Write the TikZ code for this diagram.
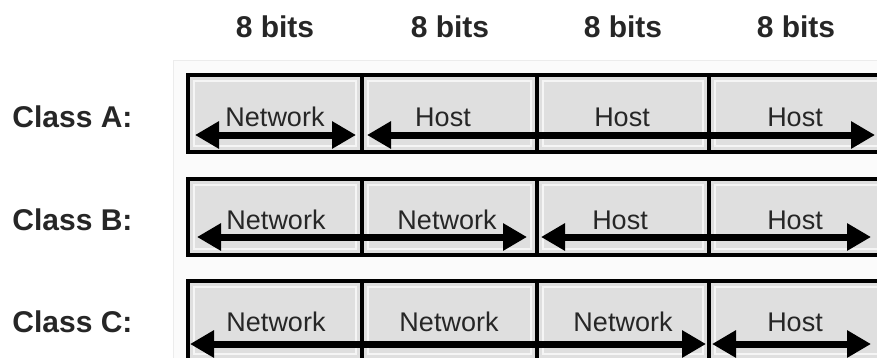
\documentclass[tikz,border=0pt]{standalone}
\usepackage{fontspec}
\setmainfont{Liberation Sans}
\usetikzlibrary{arrows.meta}
\begin{document}
\begin{tikzpicture}[x=0.5pt,y=-0.5pt,
  hdr/.style={font=\fontsize{15}{18}\selectfont\bfseries, text=black!85, inner sep=0},
  cls/.style={font=\fontsize{15}{18}\selectfont\bfseries, text=black!85, anchor=west, inner sep=0},
  field/.style={font=\fontsize{13.5}{16}\selectfont, text=black!85, inner sep=0},
  cellfill/.style={fill=gray!25},
  cellinner/.style={draw=gray!8, line width=0.6pt},
  rowbox/.style={draw=black, line width=2pt},
  span/.style={line width=3.5pt, {Triangle[length=12pt,width=13pt]}-{Triangle[length=12pt,width=13pt]}}
]
\useasboundingbox (0,0) rectangle (877,358);
\clip (0,0) rectangle (877,358);
% faint background frame
\draw[draw=gray!15, fill=gray!3] (173,60) rectangle (895,375);
% headers
\node[hdr] (h1) at (275,27) {8 bits};
\node[hdr] (h2) at (450,27) {8 bits};
\node[hdr] (h3) at (623,27) {8 bits};
\node[hdr] (h4) at (796,27) {8 bits};
% class labels
\node[cls] (cA) at (12,117) {Class A:};
\node[cls] (cB) at (12,220) {Class B:};
\node[cls] (cC) at (12,322) {Class C:};
% rows of cells
\foreach \t/\b in {75/152, 179/255, 281/360}{
  \foreach \l/\r in {188/362, 362/537, 537/709, 709/884}{
    \fill[cellfill] (\l,\t) rectangle (\r,\b);
    \draw[cellinner] (\l+6,\t+6) rectangle (\r-6,\b-6);
  }
  \draw[rowbox] (188,\t) rectangle (884,\b);
  \draw[rowbox] (362,\t) -- (362,\b) (537,\t) -- (537,\b) (709,\t) -- (709,\b);
}
% field texts
\node[field] (a1) at (275,117) {Network};
\node[field] (a2) at (443,117) {Host};
\node[field] (a3) at (622,117) {Host};
\node[field] (a4) at (795,117) {Host};
\node[field] (b1) at (276,220) {Network};
\node[field] (b2) at (447,220) {Network};
\node[field] (b3) at (620,220) {Host};
\node[field] (b4) at (795,220) {Host};
\node[field] (c1) at (276,322) {Network};
\node[field] (c2) at (449,322) {Network};
\node[field] (c3) at (623,322) {Network};
\node[field] (c4) at (795,322) {Host};
% arrow end points
\coordinate (aNl) at (195,135); \coordinate (aNr) at (356,135);
\coordinate (aHl) at (367,135); \coordinate (aHr) at (875,135);
\coordinate (bNl) at (197,237); \coordinate (bNr) at (527,237);
\coordinate (bHl) at (541,237); \coordinate (bHr) at (871,237);
\coordinate (cNl) at (190,344); \coordinate (cNr) at (706,344);
\coordinate (cHl) at (712,344); \coordinate (cHr) at (871,344);
\draw[span] (aNl) -- (aNr);
\draw[span] (aHl) -- (aHr);
\draw[span] (bNl) -- (bNr);
\draw[span] (bHl) -- (bHr);
\draw[span] (cNl) -- (cNr);
\draw[span] (cHl) -- (cHr);
\end{tikzpicture}
\end{document}
